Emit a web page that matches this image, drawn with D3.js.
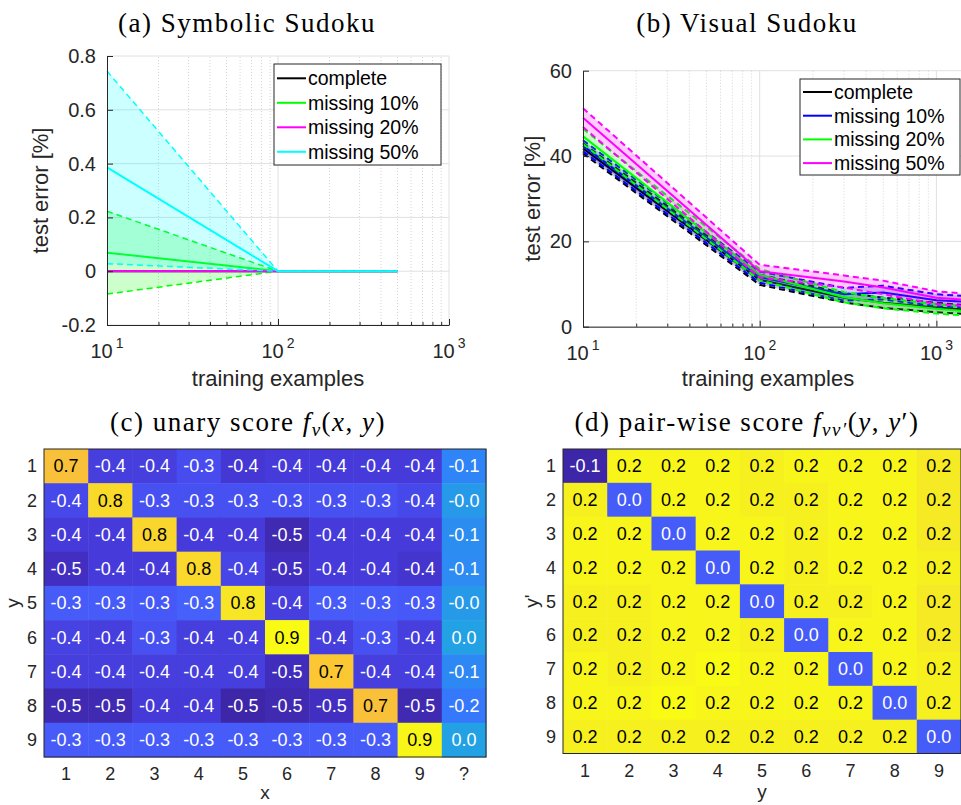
<!DOCTYPE html>
<html lang="en">
<head>
    <meta charset="UTF-8">
    <title>Sudoku test error and scores</title>
    <script src="https://d3js.org/d3.v7.min.js"></script>
    <style>
        body { margin: 0; background: #ffffff; }
        svg { display: block; font-family: "Liberation Sans", Arial, sans-serif; }
        .title { font-family: "Liberation Serif", serif; font-size: 27px; letter-spacing: 1.5px; fill: #000; }
    </style>
</head>
<body>
<script>
    const width = 961;
    const height = 805;

    // (a) symbolic sudoku
    const examplesA = [10, 100, 300, 500];
    const namesA = ["complete", "missing 10%", "missing 20%", "missing 50%"];
    const colorsA = ["#000000", "#00ff00", "#ff00ff", "#00ffff"];
    const meanA = [
        [0, 0, 0, 0],
        [0.069, 0, 0, 0],
        [0, 0, 0, 0],
        [0.386, 0, 0, 0]
    ];
    const stdA = [
        [0, 0, 0, 0],
        [0.154, 0, 0, 0],
        [0, 0, 0, 0],
        [0.358, 0, 0, 0]
    ];
    const yTicksA = [-0.2, 0, 0.2, 0.4, 0.6, 0.8];

    // (b) visual sudoku
    const examplesB = [10, 100, 300, 500, 1000, 2000];
    const namesB = ["complete", "missing 10%", "missing 20%", "missing 50%"];
    const colorsB = ["#000000", "#0000ff", "#00ff00", "#ff00ff"];
    const meanB = [
        [41.8, 11.0, 6.8, 5.6, 4.5, 3.6],
        [42.4, 11.6, 7.6, 8.0, 6.2, 5.6],
        [44.6, 12.2, 6.9, 5.5, 4.2, 3.2],
        [49.0, 13.0, 10.6, 9.2, 6.8, 5.9]
    ];
    const stdB = [
        [1.2, 1.2, 1.1, 1.2, 1.1, 1.0],
        [1.3, 1.3, 1.5, 1.6, 1.4, 1.3],
        [1.8, 1.3, 1.2, 1.2, 1.1, 1.0],
        [2.2, 1.5, 1.4, 1.6, 1.5, 1.4]
    ];
    const yTicksB = [0, 20, 40, 60];
    const decadeTicks = [10, 100, 1000];

    // (c) unary score
    const unaryRows = ["1", "2", "3", "4", "5", "6", "7", "8", "9"];
    const unaryCols = ["1", "2", "3", "4", "5", "6", "7", "8", "9", "?"];
    const unaryScore = [
        [0.70, -0.40, -0.40, -0.34, -0.43, -0.41, -0.41, -0.41, -0.41, -0.12],
        [-0.36, 0.80, -0.32, -0.32, -0.32, -0.32, -0.32, -0.32, -0.36, -0.02],
        [-0.41, -0.41, 0.78, -0.41, -0.41, -0.50, -0.41, -0.41, -0.41, -0.08],
        [-0.47, -0.41, -0.41, 0.79, -0.37, -0.47, -0.41, -0.41, -0.44, -0.09],
        [-0.28, -0.28, -0.29, -0.26, 0.84, -0.40, -0.28, -0.28, -0.29, -0.02],
        [-0.38, -0.40, -0.32, -0.40, -0.40, 0.92, -0.40, -0.32, -0.40, 0.01],
        [-0.40, -0.40, -0.40, -0.40, -0.40, -0.48, 0.73, -0.40, -0.40, -0.10],
        [-0.50, -0.50, -0.42, -0.42, -0.52, -0.50, -0.47, 0.70, -0.50, -0.17],
        [-0.28, -0.28, -0.28, -0.28, -0.28, -0.28, -0.28, -0.28, 0.90, 0.01]
    ];

    // (d) pair-wise score
    const pairRows = ["1", "2", "3", "4", "5", "6", "7", "8", "9"];
    const pairCols = ["1", "2", "3", "4", "5", "6", "7", "8", "9"];
    const pairScore = [
        [-0.10, 0.21, 0.21, 0.21, 0.20, 0.21, 0.21, 0.21, 0.19],
        [0.20, 0.00, 0.21, 0.21, 0.20, 0.20, 0.21, 0.21, 0.19],
        [0.21, 0.21, 0.00, 0.21, 0.21, 0.20, 0.21, 0.21, 0.19],
        [0.21, 0.21, 0.21, 0.00, 0.21, 0.20, 0.21, 0.21, 0.20],
        [0.20, 0.20, 0.21, 0.21, 0.00, 0.20, 0.20, 0.21, 0.19],
        [0.20, 0.20, 0.21, 0.21, 0.20, 0.00, 0.21, 0.21, 0.19],
        [0.21, 0.20, 0.21, 0.22, 0.21, 0.21, 0.00, 0.21, 0.20],
        [0.21, 0.21, 0.22, 0.21, 0.21, 0.21, 0.21, 0.00, 0.20],
        [0.20, 0.20, 0.20, 0.20, 0.20, 0.20, 0.20, 0.20, 0.00]
    ];

    // parula, every 4th entry of the 64 colour table
    const parulaHex = ["#3e26a8", "#4537d5", "#484df0", "#4563fd", "#327cfc", "#2b91ef", "#20a5e3", "#08b5d0",
        "#19bfb6", "#37c897", "#64cd6f", "#9dc943", "#d1bf27", "#f8ba3d", "#fccf30", "#f5e924", "#f9fb15"];
    const parula = d3.scaleLinear()
        .domain(parulaHex.map((c, i) => Math.min(i * 4, 63) / 63))
        .range(parulaHex)
        .interpolate(d3.interpolateRgb)
        .clamp(true);

    const svg = d3.select("body").append("svg")
        .attr("width", width)
        .attr("height", height);

    const axisColor = "#262626";

    function minorTicks(lo, hi) {
        const out = [];
        for (let p = lo; p < hi; p *= 10) {
            for (let k = 2; k <= 9; k++) out.push(p * k);
        }
        return out;
    }

    function curvePanel(o) {
        const g = svg.append("g");
        const x = o.x, y = o.y;
        const [xl, xr] = x.range();
        const [yb, yt] = y.range();

        // grid
        g.selectAll(".hgrid").data(o.yTicks).join("line")
            .attr("x1", xl).attr("x2", xr)
            .attr("y1", d => y(d)).attr("y2", d => y(d))
            .attr("stroke", "#e0e0e0");
        g.selectAll(".mgrid").data(o.minor).join("line")
            .attr("x1", d => x(d)).attr("x2", d => x(d))
            .attr("y1", yb).attr("y2", yt)
            .attr("stroke", "#d4d4d4")
            .attr("stroke-dasharray", "1,2");
        g.selectAll(".vgrid").data(decadeTicks.slice(1)).join("line")
            .attr("x1", d => x(d)).attr("x2", d => x(d))
            .attr("y1", yb).attr("y2", yt)
            .attr("stroke", "#e0e0e0");

        o.names.forEach(function (name, i) {
            const pts = o.xs.map((xv, k) => ({ x: xv, m: o.mean[i][k], s: o.std[i][k] }));
            const col = o.colors[i];
            g.append("path").datum(pts)
                .attr("d", d3.area().x(d => x(d.x)).y0(d => y(d.m - d.s)).y1(d => y(d.m + d.s)))
                .attr("fill", col)
                .attr("fill-opacity", 0.2);
            [-1, 1].forEach(function (sgn) {
                g.append("path").datum(pts)
                    .attr("d", d3.line().x(d => x(d.x)).y(d => y(d.m + sgn * d.s)))
                    .attr("fill", "none")
                    .attr("stroke", col)
                    .attr("stroke-width", o.dashWidth)
                    .attr("stroke-dasharray", "6,4");
            });
            g.append("path").datum(pts)
                .attr("d", d3.line().x(d => x(d.x)).y(d => y(d.m)))
                .attr("fill", "none")
                .attr("stroke", col)
                .attr("stroke-width", 2);
        });

        // axes, ticks pointing inward like matlab
        g.append("g")
            .attr("transform", `translate(0,${yb})`)
            .attr("color", axisColor)
            .call(d3.axisBottom(x).tickValues(o.minor).tickSize(-3).tickFormat(""))
            .call(a => a.select(".domain").remove());
        g.append("g")
            .attr("transform", `translate(0,${yb})`)
            .attr("color", axisColor)
            .call(d3.axisBottom(x).tickValues(decadeTicks).tickSize(-6).tickSizeOuter(0).tickFormat(""));
        g.append("g")
            .attr("transform", `translate(${xl},0)`)
            .attr("color", axisColor)
            .call(d3.axisLeft(y).tickValues(o.yTicks).tickSize(-6).tickSizeOuter(0).tickPadding(11)
                .tickFormat(d => d === 0 ? "0" : (o.fmt ? d.toFixed(1) : String(d))))
            .call(a => a.selectAll("text").attr("font-size", 20).attr("font-family", null).attr("fill", axisColor));

        g.selectAll(".xlab").data(decadeTicks).join("text")
            .attr("x", d => x(d))
            .attr("y", yb + 33)
            .attr("text-anchor", "middle")
            .attr("font-size", 20)
            .attr("fill", axisColor)
            .each(function (d) {
                const t = d3.select(this);
                t.append("tspan").text("10");
                t.append("tspan").attr("dx", 3).attr("dy", -10).attr("font-size", 14).text(Math.round(Math.log10(d)));
            });

        g.append("text")
            .attr("transform", `translate(${o.yLabelX},${(yb + yt) / 2}) rotate(-90)`)
            .attr("text-anchor", "middle")
            .attr("font-size", 22)
            .attr("fill", axisColor)
            .text("test error [%]");
        g.append("text")
            .attr("x", o.xLabelX)
            .attr("y", 386)
            .attr("text-anchor", "middle")
            .attr("font-size", 22)
            .attr("fill", axisColor)
            .text("training examples");

        // legend
        const b = o.legend;
        const lg = svg.append("g").attr("transform", `translate(${b.x},${b.y})`);
        lg.append("rect")
            .attr("width", b.w).attr("height", b.h)
            .attr("fill", "#ffffff").attr("stroke", axisColor);
        o.names.forEach(function (name, i) {
            const cy = b.first + i * b.step;
            lg.append("line")
                .attr("x1", 3).attr("x2", 32).attr("y1", cy).attr("y2", cy)
                .attr("stroke", o.colors[i]).attr("stroke-width", 2);
            lg.append("text")
                .attr("x", 34).attr("y", cy).attr("dy", "0.35em")
                .attr("font-size", 19.5).attr("fill", "#000")
                .text(name);
        });
    }

    curvePanel({
        x: d3.scaleLog().domain([10, 1000]).range([107, 449]),
        y: d3.scaleLinear().domain([-0.2, 0.8]).range([325, 56]),
        xs: examplesA, names: namesA, colors: colorsA, mean: meanA, std: stdA,
        yTicks: yTicksA, fmt: true, minor: minorTicks(10, 1000), dashWidth: 1.5,
        yLabelX: 48, xLabelX: 278,
        legend: { x: 274, y: 64, w: 167, h: 101, first: 14.3, step: 24.5 }
    });

    const decadeB = 176.7;
    curvePanel({
        x: d3.scaleLog().domain([10, 2000]).range([583, 583 + decadeB * Math.log10(200)]),
        y: d3.scaleLinear().domain([0, 60]).range([326.7, 70.7]),
        xs: examplesB, names: namesB, colors: colorsB, mean: meanB, std: stdB,
        yTicks: yTicksB, fmt: false, minor: minorTicks(10, 10000).filter(v => v < 2000), dashWidth: 2,
        yLabelX: 540, xLabelX: 768,
        legend: { x: 800, y: 79, w: 160, h: 96, first: 13, step: 23.7 }
    });

    function heatmap(o) {
        const g = svg.append("g");
        const x = d3.scaleBand().domain(o.cols).range([o.left, o.right]);
        const y = d3.scaleBand().domain(o.rows).range([o.top, o.bottom]);
        const cells = o.values.flatMap((row, i) => row.map((v, j) => ({ r: o.rows[i], c: o.cols[j], v: v })));

        g.selectAll("rect.cell").data(cells).join("rect")
            .attr("class", "cell")
            .attr("x", d => x(d.c)).attr("y", d => y(d.r))
            .attr("width", x.bandwidth() + 0.5).attr("height", y.bandwidth() + 0.5)
            .attr("fill", d => o.color(d.v));
        g.selectAll("text.val").data(cells).join("text")
            .attr("class", "val")
            .attr("x", d => x(d.c) + x.bandwidth() / 2)
            .attr("y", d => y(d.r) + y.bandwidth() / 2)
            .attr("dy", "0.35em")
            .attr("text-anchor", "middle")
            .attr("font-size", 18)
            .attr("fill", d => d3.lab(o.color(d.v)).l > 70 ? "#000" : "#fff")
            .text(d => d.v.toFixed(1));
        g.append("rect")
            .attr("x", o.left).attr("y", o.top)
            .attr("width", o.right - o.left).attr("height", o.bottom - o.top)
            .attr("fill", "none").attr("stroke", axisColor);

        g.selectAll("text.col").data(o.cols).join("text")
            .attr("class", "col")
            .attr("x", d => x(d) + x.bandwidth() / 2)
            .attr("y", o.bottom + 23)
            .attr("text-anchor", "middle")
            .attr("font-size", 18).attr("fill", axisColor)
            .text(d => d);
        g.selectAll("text.row").data(o.rows).join("text")
            .attr("class", "row")
            .attr("x", o.left - 7)
            .attr("y", d => y(d) + y.bandwidth() / 2)
            .attr("dy", "0.35em")
            .attr("text-anchor", "end")
            .attr("font-size", 18).attr("fill", axisColor)
            .text(d => d);
        g.append("text")
            .attr("x", (o.left + o.right) / 2).attr("y", o.xLabelY)
            .attr("text-anchor", "middle")
            .attr("font-size", 19).attr("fill", axisColor)
            .text(o.xLabel);
        g.append("text")
            .attr("transform", `translate(${o.yLabelX},${(o.top + o.bottom) / 2}) rotate(-90)`)
            .attr("text-anchor", "middle")
            .attr("font-size", 19).attr("fill", axisColor)
            .text(o.yLabel);
    }

    const uMin = d3.min(unaryScore.flat());
    const uMax = d3.max(unaryScore.flat());
    heatmap({
        rows: unaryRows, cols: unaryCols, values: unaryScore,
        color: v => parula((v - uMin) / (uMax - uMin)),
        left: 44, right: 486, top: 449, bottom: 757,
        xLabel: "x", xLabelY: 799, yLabel: "y", yLabelX: 19
    });

    const pairT = d3.scaleLinear().domain([-0.1, 0, 0.19, 0.22]).range([0, 0.17, 0.955, 1]).clamp(true);
    heatmap({
        rows: pairRows, cols: pairCols, values: pairScore,
        color: v => parula(pairT(v)),
        left: 563, right: 961, top: 449, bottom: 753.5,
        xLabel: "y", xLabelY: 798, yLabel: "y'", yLabelX: 538
    });

    // titles (latex style)
    const titles = svg.append("g");
    titles.append("text").attr("class", "title")
        .attr("x", 247).attr("y", 32).attr("text-anchor", "middle")
        .text("(a) Symbolic Sudoku");
    titles.append("text").attr("class", "title")
        .attr("x", 747).attr("y", 32).attr("text-anchor", "middle")
        .text("(b) Visual Sudoku");

    const tc = titles.append("text").attr("class", "title")
        .attr("x", 248).attr("y", 431).attr("text-anchor", "middle");
    tc.append("tspan").text("(c) unary score ");
    tc.append("tspan").attr("font-style", "italic").text("f");
    tc.append("tspan").attr("font-style", "italic").attr("font-size", 19).attr("dy", 5).text("v");
    tc.append("tspan").attr("dy", -5).text("(");
    tc.append("tspan").attr("font-style", "italic").text("x");
    tc.append("tspan").text(", ");
    tc.append("tspan").attr("font-style", "italic").text("y");
    tc.append("tspan").text(")");

    const td = titles.append("text").attr("class", "title")
        .attr("x", 747).attr("y", 431).attr("text-anchor", "middle");
    td.append("tspan").text("(d) pair-wise score ");
    td.append("tspan").attr("font-style", "italic").text("f");
    td.append("tspan").attr("font-style", "italic").attr("font-size", 19).attr("dy", 5).text("vv\u2032");
    td.append("tspan").attr("dy", -5).text("(");
    td.append("tspan").attr("font-style", "italic").text("y");
    td.append("tspan").text(", ");
    td.append("tspan").attr("font-style", "italic").text("y");
    td.append("tspan").text("\u2032)");
</script>
</body>
</html>
